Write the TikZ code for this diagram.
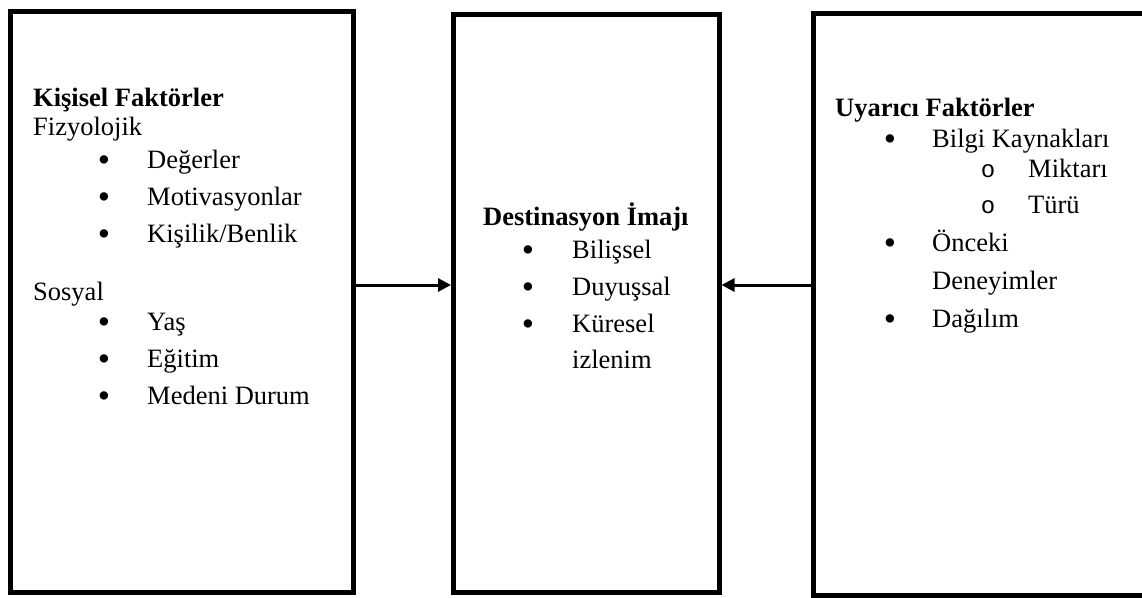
\documentclass[tikz,border=0pt]{standalone}
\usepackage{fontspec}
\setmainfont{Liberation Serif}
\newfontfamily\ringfont{Liberation Mono}
\usetikzlibrary{arrows.meta}
\begin{document}
\begin{tikzpicture}[x=1pt,y=-1pt,
  panel/.style={draw,line width=5pt,inner sep=0pt},
  link/.style={line width=3pt,-{Triangle[length=13pt,width=13pt]}},
  txt/.style={anchor=base west,inner sep=0pt,font=\fontsize{26.5}{30}\selectfont},
  head/.style={txt,font=\fontsize{26.5}{30}\selectfont\bfseries},
  dot/.style={anchor=base,inner sep=0pt,yshift=-3pt,font=\fontsize{35}{40}\selectfont},
  ring/.style={anchor=base,inner sep=0pt,font=\fontsize{24}{28}\ringfont}]
\useasboundingbox (0,0) rectangle (1142,597);
\fill[white] (0,0) rectangle (1142,597);

% the three panels
\node[panel,minimum width=343pt,minimum height=580.5pt] (L) at (182,301.75) {};
\node[panel,minimum width=265.5pt,minimum height=577.5pt] (M) at (586.25,303.25) {};
\node[panel,minimum width=350pt,minimum height=581.5pt] (R) at (988.5,304.25) {};

% connectors into the centre panel
\coordinate (lvl) at (0,285);
\draw[link] (L.east |- lvl) -- (M.west |- lvl);
\draw[link] (R.west |- lvl) -- (M.east |- lvl);

% left panel
\node[head] (l1) at (33,106) {Kişisel Faktörler};
\node[txt] (l2) at (33,135) {Fizyolojik};
\node[dot] (l3b) at (104,168) {•};
\node[txt] (l3) at (147,168) {Değerler};
\node[dot] (l4b) at (104,205) {•};
\node[txt] (l4) at (147,205) {Motivasyonlar};
\node[dot] (l5b) at (104,242) {•};
\node[txt] (l5) at (147,242) {Kişilik/Benlik};
\node[txt] (l6) at (33,300) {Sosyal};
\node[dot] (l7b) at (104,330) {•};
\node[txt] (l7) at (147,330) {Yaş};
\node[dot] (l8b) at (104,367) {•};
\node[txt] (l8) at (147,367) {Eğitim};
\node[dot] (l9b) at (104,404) {•};
\node[txt] (l9) at (147,404) {Medeni Durum};

% centre panel
\node[head] (m1) at (483,225) {Destinasyon İmajı};
\node[dot] (m2b) at (528,258) {•};
\node[txt] (m2) at (572,258) {Bilişsel};
\node[dot] (m3b) at (528,295) {•};
\node[txt] (m3) at (572,295) {Duyuşsal};
\node[dot] (m4b) at (528,332) {•};
\node[txt] (m4) at (572,332) {Küresel};
\node[txt] (m5) at (572,368) {izlenim};

% right panel
\node[head] (r1) at (835,116) {Uyarıcı Faktörler};
\node[dot] (r2b) at (890,147) {•};
\node[txt] (r2) at (932,147) {Bilgi Kaynakları};
\node[ring] (r3b) at (988,177) {o};
\node[txt] (r3) at (1028,177) {Miktarı};
\node[ring] (r4b) at (988,213) {o};
\node[txt] (r4) at (1028,213) {Türü};
\node[dot] (r5b) at (890,251) {•};
\node[txt] (r5) at (932,251) {Önceki};
\node[txt] (r6) at (932,289) {Deneyimler};
\node[dot] (r7b) at (890,327) {•};
\node[txt] (r7) at (932,327) {Dağılım};
\end{tikzpicture}
\end{document}
